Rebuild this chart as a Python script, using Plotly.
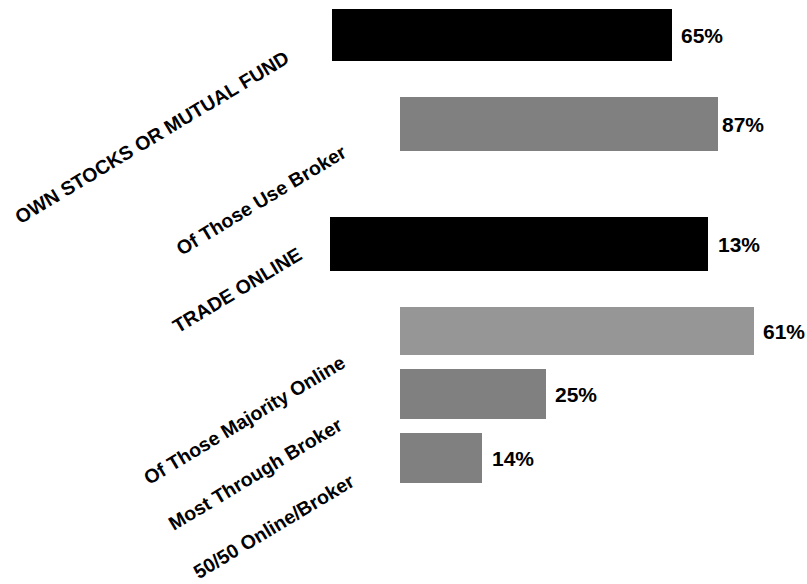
import plotly.graph_objects as go

# ---- data ----
categories = [
    "OWN STOCKS OR MUTUAL FUND",
    "Of Those Use Broker",
    "TRADE ONLINE",
    "Of Those Majority Online",
    "Most Through Broker",
    "50/50 Online/Broker",
]
value_labels = ["65%", "87%", "13%", "61%", "25%", "14%"]
bar_lengths = [58.3, 54.5, 64.8, 60.7, 25.0, 14.0]   # bar lengths as drawn
bar_bases = [0.0, 11.7, -0.3, 11.7, 11.7, 11.7]       # indented sub-items
bar_colors = ["#000000", "#808080", "#000000", "#969696", "#808080", "#808080"]

# ---- layout constants (pixel space of the 807x584 page) ----
W, H = 807, 584
PX_PER_UNIT = 5.83
X0_PX = 332
bar_y = [35, 124, 244, 331, 394, 458]
bar_h = [52, 54, 54, 48, 50, 50]
label_cx = [152, 261, 237, 244, 255, 274]
label_cy = [137, 200, 290, 420, 474, 526]
text_shift = [7, 2, 8, 7, 7, 8]

FONT = "Arial, Liberation Sans, Helvetica, sans-serif"

fig = go.Figure()
fig.add_trace(go.Bar(
    orientation="h",
    x=bar_lengths,
    base=bar_bases,
    y=bar_y,
    width=bar_h,
    marker=dict(color=bar_colors, line=dict(width=0)),
    hoverinfo="skip",
    showlegend=False,
))

annotations = []
for i in range(len(categories)):
    # value labels at bar ends
    annotations.append(dict(
        x=bar_bases[i] + bar_lengths[i], y=bar_y[i], xref="x", yref="y",
        text=f"<b>{value_labels[i]}</b>", showarrow=False,
        xanchor="left", yanchor="middle", xshift=text_shift[i],
        font=dict(family=FONT, size=21, color="#000000"),
    ))
    # rotated category labels
    annotations.append(dict(
        x=label_cx[i] / W, y=1 - label_cy[i] / H, xref="paper", yref="paper",
        text=f"<b>{categories[i]}</b>", showarrow=False,
        textangle=-31, xanchor="center", yanchor="middle",
        font=dict(family=FONT, size=19.5, color="#000000"),
    ))

fig.update_layout(
    width=W, height=H,
    margin=dict(l=0, r=0, t=0, b=0),
    paper_bgcolor="white", plot_bgcolor="white",
    xaxis=dict(range=[-X0_PX / PX_PER_UNIT, (W - X0_PX) / PX_PER_UNIT],
               visible=False, fixedrange=True),
    yaxis=dict(range=[H, 0], visible=False, fixedrange=True),
    annotations=annotations,
    bargap=0,
)

fig.write_html("out.html", config={"displayModeBar": False})
